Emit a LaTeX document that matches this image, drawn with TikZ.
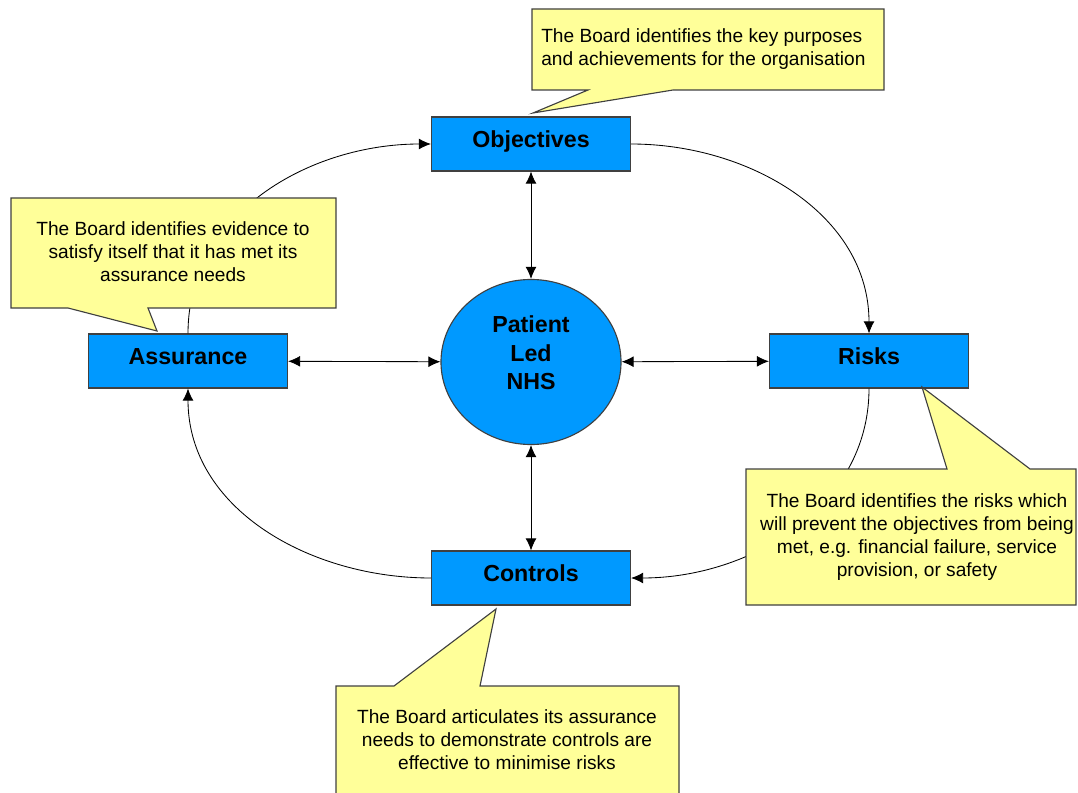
\documentclass[tikz,border=0pt]{standalone}
\usepackage{fontspec}
\setmainfont{Liberation Sans}
\usetikzlibrary{arrows.meta,shapes.geometric}

\definecolor{boxblue}{RGB}{0,153,255}
\definecolor{noteyellow}{RGB}{255,255,153}

\tikzset{
  stage/.style={draw=black!75,line width=0.8pt,fill=boxblue,
    minimum width=4.975cm,minimum height=1.35cm,
    text height=0.41cm,text depth=0.25cm,
    font=\fontsize{16.5}{20}\selectfont\bfseries},
  note/.style={draw=black!75,line width=0.8pt,fill=noteyellow},
  notetext/.style={inner sep=0pt,align=center,
    font=\fontsize{13.6}{16.4}\selectfont},
  link/.style={line width=0.6pt,-{Latex[length=3mm,width=2.7mm]}},
  both/.style={line width=0.6pt,{Latex[length=3mm,width=2.7mm]}-{Latex[length=3mm,width=2.7mm]}}
}

\begin{document}
\begin{tikzpicture}[x=0.025cm,y=0.025cm]
    \useasboundingbox (0,0) rectangle (1078,792);
    % the four stages and the centre
    \node[stage] (obj) at (531,648) {Objectives};
    \node[stage] (risk) at (869,431) {Risks};
    \node[stage] (ctrl) at (531,214) {Controls};
    \node[stage] (assur) at (188,431) {Assurance};
    \node[draw=black!75,line width=0.8pt,fill=boxblue,ellipse,
      minimum width=4.5cm,minimum height=4.125cm,
      label={[align=center,yshift=0.23cm,
        font=\fontsize{16.5}{20}\selectfont\bfseries]center:Patient\\Led\\NHS}]
      (nhs) at (531,430) {};
    % the cycle
    \draw[link] (assur.north) to[out=90,in=180] (obj.west);
    \draw[link] (obj.east) to[out=0,in=90] (risk.north);
    \draw[link] (risk.south) to[out=-90,in=0] (ctrl.east);
    \draw[link] (ctrl.west) to[out=180,in=-90] (assur.south);
    % to and from the centre
    \draw[both] (obj) -- (nhs);
    \draw[both] (assur) -- (nhs);
    \draw[both] (nhs) -- (risk);
    \draw[both] (nhs) -- (ctrl);
    % callouts
    \draw[note] (532,783) -- (884,783) -- (884,702) -- (673,702)
      -- (533,679) -- (588,702) -- (532,702) -- cycle;
    \node[notetext,anchor=west,align=left] (objnote) at (541,743)
      {The Board identifies the key purposes\\and achievements for the organisation};
    \draw[note] (11,594) -- (336,594) -- (336,484) -- (148,484)
      -- (157,461) -- (68,484) -- (11,484) -- cycle;
    \node[notetext] (assurnote) at (173,540)
      {The Board identifies evidence to\\satisfy itself that it has met its\\assurance needs};
    \draw[note] (746,323) -- (947,323) -- (922,405) -- (1030,323)
      -- (1076,323) -- (1076,187) -- (746,187) -- cycle;
    \node[notetext] (risknote) at (917,255)
      {The Board identifies the risks which\\will prevent the objectives from being\\met, e.g. financial failure, service\\provision, or safety};
    \draw[note] (336,106) -- (394,106) -- (496,183) -- (480,106)
      -- (679,106) -- (679,-10) -- (336,-10) -- cycle;
    \node[notetext] (ctrlnote) at (507,52)
      {The Board articulates its assurance\\needs to demonstrate controls are\\effective to minimise risks};
\end{tikzpicture}
\end{document}
